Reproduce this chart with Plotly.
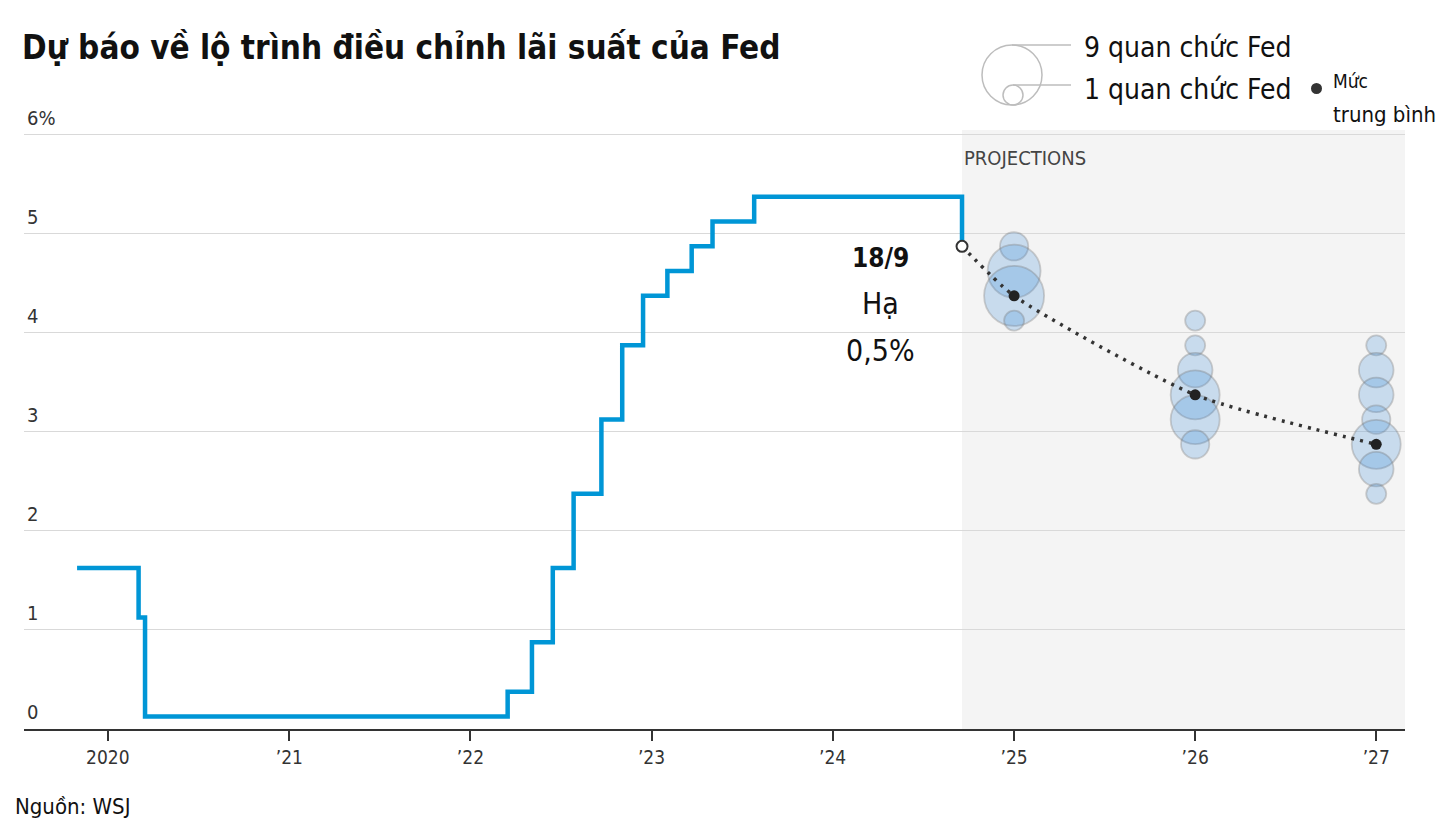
import plotly.graph_objects as go

# ---------------- data ----------------
rate_dates = ["2019-10-31", "2020-03-03", "2020-03-16", "2022-03-17", "2022-05-05",
              "2022-06-16", "2022-07-28", "2022-09-22", "2022-11-03", "2022-12-15",
              "2023-02-02", "2023-03-23", "2023-05-04", "2023-07-27", "2024-09-18"]
rate_values = [1.625, 1.125, 0.125, 0.375, 0.875, 1.625, 2.375, 3.125, 3.875, 4.375,
               4.625, 4.875, 5.125, 5.375, 4.875]

proj_dates = ["2025-01-01", "2026-01-01", "2027-01-01"]
dots_2024_rates = [4.875, 4.625, 4.375, 4.125]
dots_2024_counts = [2, 7, 9, 1]
dots_2025_rates = [4.125, 3.875, 3.625, 3.375, 3.125, 2.875]
dots_2025_counts = [1, 1, 3, 6, 6, 2]
dots_2026_rates = [3.875, 3.625, 3.375, 3.125, 2.875, 2.625, 2.375]
dots_2026_counts = [1, 3, 3, 2, 6, 3, 1]
median_values = [4.375, 3.375, 2.875]
cut_date = "2024-09-18"
cut_value = 4.875

x_tick_vals = ["2020-01-01", "2021-01-01", "2022-01-01", "2023-01-01",
               "2024-01-01", "2025-01-01", "2026-01-01", "2027-01-01"]
x_tick_text = ["2020", "’21", "’22", "’23", "’24", "’25", "’26", "’27"]
y_tick_vals = [0, 1, 2, 3, 4, 5, 6]
y_tick_text = ["0", "1", "2", "3", "4", "5", "6%"]

# ---------------- layout geometry (page pixels) ----------------
PAGE_W, PAGE_H = 1446, 840
OFF = 8                      # default body margin of the html page
L, R, T, B = 24, 1405, 130, 729
FONT = "DejaVu Sans Condensed, DejaVu Sans, sans-serif"


def px(x):
    return (x - L) / (R - L)


def py(y):
    return (B - y) / (B - T)


fig = go.Figure()

# bubbles
bx, by, bs = [], [], []
for d, rates, counts in zip(proj_dates,
                            [dots_2024_rates, dots_2025_rates, dots_2026_rates],
                            [dots_2024_counts, dots_2025_counts, dots_2026_counts]):
    for r, c in zip(rates, counts):
        bx.append(d)
        by.append(r)
        bs.append(c)

fig.add_trace(go.Scatter(
    x=bx, y=by, mode="markers",
    marker=dict(size=bs, sizemode="area", sizeref=2 * 9 / 60 ** 2,
                color="rgba(40,130,215,0.30)",
                line=dict(color="rgba(110,110,110,0.45)", width=1.8)),
    hoverinfo="skip"))

# step line
fig.add_trace(go.Scatter(
    x=rate_dates, y=rate_values, mode="lines", line_shape="hv",
    line=dict(color="#0096d6", width=4.5), hoverinfo="skip"))

# dotted median path
fig.add_trace(go.Scatter(
    x=[cut_date] + proj_dates, y=[cut_value] + median_values, mode="lines",
    line=dict(color="#333333", width=3.5, dash="3px,6px", shape="spline", smoothing=0.6),
    hoverinfo="skip"))

# open circle at cut
fig.add_trace(go.Scatter(
    x=[cut_date], y=[cut_value], mode="markers",
    marker=dict(size=11, color="white", line=dict(color="#333333", width=2)),
    hoverinfo="skip"))

# medians
fig.add_trace(go.Scatter(
    x=proj_dates, y=median_values, mode="markers",
    marker=dict(size=11, color="#222222"), hoverinfo="skip"))

shapes = [
    # projection shading
    dict(type="rect", xref="x", yref="paper", x0=cut_date, x1="2027-03-31", y0=0, y1=1.0,
         fillcolor="#f4f4f4", line=dict(width=0), layer="below"),
    # white box behind annotation
    dict(type="rect", xref="paper", yref="paper", x0=px(798), x1=px(958), y0=py(380), y1=py(242),
         fillcolor="white", line=dict(width=0), layer="between"),
    # legend circles
    dict(type="circle", xref="paper", yref="paper", x0=px(982), x1=px(1042), y0=py(105), y1=py(45),
         line=dict(color="#bdbdbd", width=1.5)),
    dict(type="circle", xref="paper", yref="paper", x0=px(1003), x1=px(1023), y0=py(105), y1=py(85),
         line=dict(color="#bdbdbd", width=1.5)),
    dict(type="line", xref="paper", yref="paper", x0=px(1012), x1=px(1071), y0=py(45), y1=py(45),
         line=dict(color="#bdbdbd", width=1.5)),
    dict(type="line", xref="paper", yref="paper", x0=px(1013), x1=px(1071), y0=py(85), y1=py(85),
         line=dict(color="#bdbdbd", width=1.5)),
    # median legend dot
    dict(type="circle", xref="paper", yref="paper", x0=px(1311), x1=px(1322), y0=py(94), y1=py(83),
         fillcolor="#333333", line=dict(width=0)),
]

annotations = []
for v, t in zip(y_tick_vals, y_tick_text):
    annotations.append(dict(xref="paper", yref="y", x=px(25), y=v, text=t, showarrow=False,
                            xanchor="left", yanchor="bottom", yshift=3,
                            font=dict(family=FONT, size=20, color="#333333")))

annotations += [
    dict(xref="paper", yref="paper", x=px(20), y=py(47),
         text="<b>Dự báo về lộ trình điều chỉnh lãi suất của Fed</b>", showarrow=False,
         xanchor="left", yanchor="middle", font=dict(family=FONT, size=33, color="#111111")),
    dict(xref="x", yref="paper", x=cut_date, y=py(158), text="PROJECTIONS", showarrow=False,
         xanchor="left", yanchor="middle", font=dict(family=FONT, size=20, color="#444444")),
    dict(xref="paper", yref="paper", x=px(880), y=py(258), text="<b>18/9</b>", showarrow=False,
         xanchor="center", yanchor="middle", font=dict(family=FONT, size=26, color="#111111")),
    dict(xref="paper", yref="paper", x=px(880), y=py(303), text="Hạ", showarrow=False,
         xanchor="center", yanchor="middle", font=dict(family=FONT, size=30, color="#111111")),
    dict(xref="paper", yref="paper", x=px(880), y=py(350), text="0,5%", showarrow=False,
         xanchor="center", yanchor="middle", font=dict(family=FONT, size=30, color="#111111")),
    dict(xref="paper", yref="paper", x=px(1082), y=py(47), text="9 quan chức Fed", showarrow=False,
         xanchor="left", yanchor="middle", font=dict(family=FONT, size=28, color="#111111")),
    dict(xref="paper", yref="paper", x=px(1082), y=py(89), text="1 quan chức Fed", showarrow=False,
         xanchor="left", yanchor="middle", font=dict(family=FONT, size=28, color="#111111")),
    dict(xref="paper", yref="paper", x=px(1331), y=py(81), text="Mức", showarrow=False,
         xanchor="left", yanchor="middle", font=dict(family=FONT, size=19, color="#111111")),
    dict(xref="paper", yref="paper", x=px(1331), y=py(114), text="trung bình", showarrow=False,
         xanchor="left", yanchor="middle", font=dict(family=FONT, size=22, color="#111111")),
    dict(xref="paper", yref="paper", x=px(13), y=py(806), text="Nguồn: WSJ", showarrow=False,
         xanchor="left", yanchor="middle", font=dict(family=FONT, size=22, color="#111111")),
]

fig.update_layout(
    width=PAGE_W - OFF, height=PAGE_H - OFF, autosize=False,
    margin=dict(l=L - OFF, r=PAGE_W - R, t=T - OFF, b=PAGE_H - B, pad=0),
    paper_bgcolor="white", plot_bgcolor="white",
    showlegend=False,
    shapes=shapes, annotations=annotations,
    xaxis=dict(type="date", range=["2019-07-16", "2027-02-28"],
               tickvals=x_tick_vals, ticktext=x_tick_text,
               ticks="outside", ticklen=10, tickwidth=2, tickcolor="#333333",
               showline=True, linecolor="#333333", linewidth=2,
               showgrid=False, zeroline=False,
               tickfont=dict(family=FONT, size=19, color="#333333"), fixedrange=True),
    yaxis=dict(range=[0, 6.05], tickvals=y_tick_vals[1:], showticklabels=False,
               showgrid=True, gridcolor="#d9d9d9", gridwidth=1.3, zeroline=False,
               showline=False, ticks="", fixedrange=True),
)

fig.write_html("out.html")
